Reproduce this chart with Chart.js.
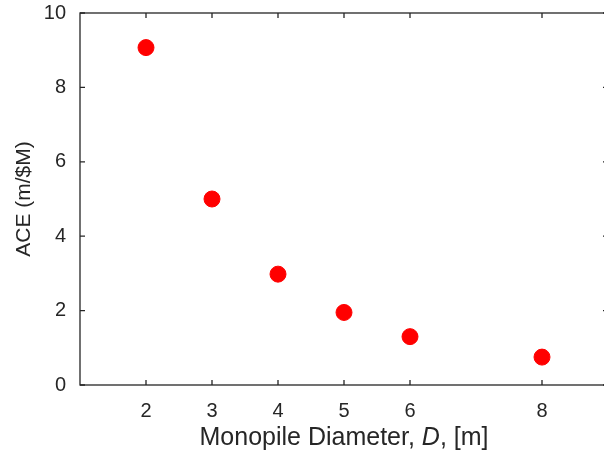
<!DOCTYPE html>
<html>
<head>
<meta charset="utf-8">
<script src="https://cdn.jsdelivr.net/npm/chart.js@4/dist/chart.umd.min.js"></script>
<style>
  html, body { margin: 0; padding: 0; background: #fff; overflow: hidden; }
</style>
</head>
<body>
<canvas id="scatter" width="618" height="451"></canvas>
<script>
// data
const diameters = [2, 3, 4, 5, 6, 8];
const aceValues = [9.07, 5.0, 2.98, 1.95, 1.3, 0.75];
const xTicks = [2, 3, 4, 5, 6, 8];
const yTicks = [0, 2, 4, 6, 8, 10];

const axisColor = '#262626';
const fontFamily = '"Liberation Sans", Arial, Helvetica, sans-serif';

// box, inward ticks and the two axis titles (the x title has an italic D)
const matlabFrame = {
    id: 'matlabFrame',
    afterDraw(chart) {
        const ctx = chart.ctx;
        const a = chart.chartArea;
        const xs = chart.scales.x, ys = chart.scales.y;
        ctx.save();
        ctx.strokeStyle = axisColor;
        ctx.lineWidth = 1.3;
        ctx.strokeRect(a.left, a.top, a.right - a.left, a.bottom - a.top);
        ctx.beginPath();
        xTicks.forEach(v => {
            const px = xs.getPixelForValue(v);
            ctx.moveTo(px, a.bottom); ctx.lineTo(px, a.bottom - 5);
            ctx.moveTo(px, a.top); ctx.lineTo(px, a.top + 5);
        });
        yTicks.forEach(v => {
            const py = ys.getPixelForValue(v);
            ctx.moveTo(a.left, py); ctx.lineTo(a.left + 5, py);
            ctx.moveTo(a.right, py); ctx.lineTo(a.right - 5, py);
        });
        ctx.stroke();

        ctx.fillStyle = axisColor;
        ctx.textBaseline = 'alphabetic';
        // x title
        const parts = [
            { t: 'Monopile Diameter, ', f: '25px ' + fontFamily },
            { t: 'D', f: 'italic 25px ' + fontFamily },
            { t: ', [m]', f: '25px ' + fontFamily }
        ];
        let total = 0;
        parts.forEach(p => { ctx.font = p.f; p.w = ctx.measureText(p.t).width; total += p.w; });
        let x = (a.left + a.right) / 2 - total / 2;
        ctx.textAlign = 'left';
        parts.forEach(p => { ctx.font = p.f; ctx.fillText(p.t, x, 445); x += p.w; });
        // y title
        ctx.translate(30, (a.top + a.bottom) / 2);
        ctx.rotate(-Math.PI / 2);
        ctx.textAlign = 'center';
        ctx.font = '21px ' + fontFamily;
        ctx.fillText('ACE (m/$M)', 0, 0);
        ctx.restore();
    }
};

const noEdgePadding = s => {
    s.paddingTop = 0; s.paddingBottom = 0; s.paddingLeft = 0; s.paddingRight = 0;
};

new Chart(document.getElementById('scatter'), {
    type: 'scatter',
    data: {
        datasets: [{
            label: 'ACE',
            data: diameters.map((d, i) => ({ x: d, y: aceValues[i] })),
            backgroundColor: '#ff0000',
            borderColor: '#ff0000',
            pointRadius: 8,
            pointHoverRadius: 8
        }]
    },
    options: {
        responsive: false,
        animation: false,
        layout: { padding: { top: 13, right: 10, left: 0, bottom: 0 } },
        plugins: { legend: { display: false }, tooltip: { enabled: false } },
        scales: {
            x: {
                type: 'linear',
                min: 1,
                max: 9,
                afterBuildTicks: s => { s.ticks = xTicks.map(v => ({ value: v })); },
                afterFit: s => { s.height = 66; noEdgePadding(s); },
                grid: { display: false },
                border: { display: false },
                ticks: { color: axisColor, padding: 6, font: { size: 20, family: fontFamily } }
            },
            y: {
                min: 0,
                max: 10,
                afterBuildTicks: s => { s.ticks = yTicks.map(v => ({ value: v })); },
                afterFit: s => { s.width = 80; noEdgePadding(s); },
                grid: { display: false },
                border: { display: false },
                ticks: { color: axisColor, padding: 6, font: { size: 20, family: fontFamily } }
            }
        }
    },
    plugins: [matlabFrame]
});
</script>
</body>
</html>
